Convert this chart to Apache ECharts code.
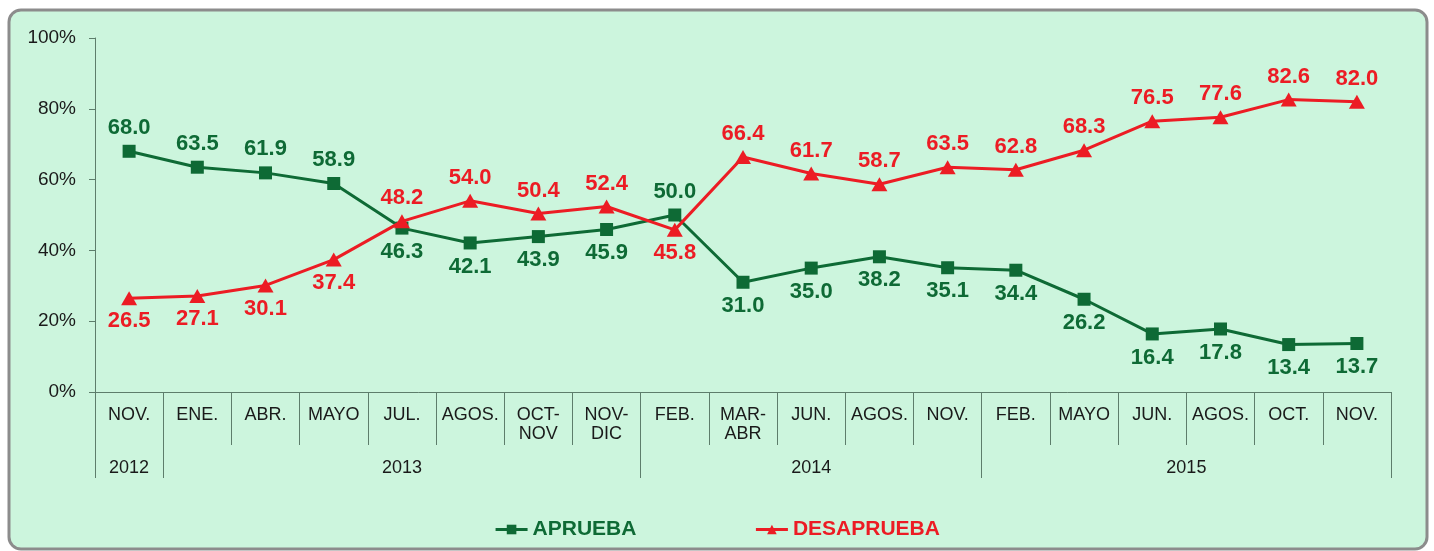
<!DOCTYPE html>
<html>
<head>
<meta charset="utf-8">
<script src="https://cdn.jsdelivr.net/npm/echarts@6/dist/echarts.min.js"></script>
<style>
  html, body { margin: 0; padding: 0; background: #ffffff; }
  #chart { width: 1434px; height: 551px; }
</style>
</head>
<body>
<div id="chart"></div>
<script>
// ---- data ----
const years = ['2012', '2013', '2014', '2015'];
const yearMonthCounts = [1, 7, 5, 6];
const months = ['NOV.', 'ENE.', 'ABR.', 'MAYO', 'JUL.', 'AGOS.', 'OCT-\nNOV', 'NOV-\nDIC',
                'FEB.', 'MAR-\nABR', 'JUN.', 'AGOS.', 'NOV.',
                'FEB.', 'MAYO', 'JUN.', 'AGOS.', 'OCT.', 'NOV.'];
const aprueba = [68.0, 63.5, 61.9, 58.9, 46.3, 42.1, 43.9, 45.9, 50.0, 31.0, 35.0, 38.2, 35.1, 34.4, 26.2, 16.4, 17.8, 13.4, 13.7];
const desaprueba = [26.5, 27.1, 30.1, 37.4, 48.2, 54.0, 50.4, 52.4, 45.8, 66.4, 61.7, 58.7, 63.5, 62.8, 68.3, 76.5, 77.6, 82.6, 82.0];
const yTicks = [0, 20, 40, 60, 80, 100];

// ---- derived helpers ----
const yearStarts = [];
const yearCenters = [];
let acc = 0;
yearMonthCounts.forEach(function (c) { yearStarts.push(acc); yearCenters.push(acc + c / 2); acc += c; });

const GREEN = '#0e6a35';
const RED = '#ec1c24';
const AXIS = '#5d7d6b';
const FONT = '"Liberation Sans", Arial, sans-serif';

function buildData(vals, other, dist) {
  return vals.map(function (v, i) {
    const above = v >= other[i];
    return {
      value: v,
      label: { position: above ? 'top' : 'bottom', distance: dist }
    };
  });
}

const chart = echarts.init(document.getElementById('chart'), null, { renderer: 'canvas' });
chart.setOption({
  backgroundColor: '#ffffff',
  animation: false,
  graphic: [{
    type: 'rect',
    z: -10,
    silent: true,
    shape: { x: 9, y: 10, width: 1418, height: 539, r: 12 },
    style: { fill: '#ccf5dd', stroke: '#8c8c8c', lineWidth: 3 }
  }],
  grid: { left: 95, right: 43, top: 38, bottom: 159, outerBoundsMode: 'none', containLabel: false },
  legend: {
    top: 514,
    left: 'center',
    itemGap: 118,
    itemWidth: 32,
    itemHeight: 12,
    lineStyle: { width: 3 },
    textStyle: { fontFamily: FONT, fontSize: 21, fontWeight: 'bold' },
    data: [
      { name: 'APRUEBA', textStyle: { color: GREEN } },
      { name: 'DESAPRUEBA', textStyle: { color: RED } }
    ]
  },
  xAxis: [
    {
      type: 'category',
      data: months,
      boundaryGap: true,
      position: 'bottom',
      axisLine: { show: true, onZero: false, lineStyle: { color: AXIS, width: 1 } },
      axisTick: { show: true, interval: 0, length: 53, lineStyle: { color: AXIS, width: 1 } },
      axisLabel: {
        interval: 0, margin: 14, color: '#1a1a1a', fontFamily: FONT, fontSize: 18, lineHeight: 19,
        verticalAlign: 'top'
      },
      splitLine: { show: false }
    },
    {
      type: 'category',
      data: months,
      boundaryGap: true,
      position: 'bottom',
      axisLine: { show: false, onZero: false },
      axisTick: {
        show: true,
        interval: function (index) { return yearStarts.indexOf(index) >= 0; },
        length: 86,
        lineStyle: { color: AXIS, width: 1 }
      },
      axisLabel: { show: false },
      splitLine: { show: false }
    },
    {
      type: 'value',
      min: 0,
      max: months.length,
      interval: 0.5,
      position: 'bottom',
      axisLine: { show: false, onZero: false },
      axisTick: { show: false },
      splitLine: { show: false },
      axisLabel: {
        margin: 76,
        color: '#1a1a1a',
        fontFamily: FONT,
        fontSize: 18,
        lineHeight: 20,
        verticalAlign: 'middle',
        showMinLabel: true,
        showMaxLabel: true,
        formatter: function (v) {
          const k = yearCenters.findIndex(function (c) { return Math.abs(c - v) < 1e-6; });
          return k >= 0 ? years[k] : '';
        }
      }
    }
  ],
  yAxis: {
    type: 'value',
    min: yTicks[0],
    max: yTicks[yTicks.length - 1],
    interval: yTicks[1] - yTicks[0],
    axisLine: { show: true, lineStyle: { color: AXIS, width: 1 } },
    axisTick: { show: true, length: 6, lineStyle: { color: AXIS, width: 1 } },
    splitLine: { show: false },
    axisLabel: {
      margin: 19, color: '#1a1a1a', fontFamily: FONT, fontSize: 19,
      formatter: '{value}%'
    }
  },
  series: [
    {
      name: 'APRUEBA',
      type: 'line',
      xAxisIndex: 0,
      data: buildData(aprueba, desaprueba, 6),
      symbol: 'rect',
      symbolSize: 13,
      showAllSymbol: true,
      lineStyle: { color: GREEN, width: 3 },
      itemStyle: { color: GREEN },
      label: {
        show: true, color: GREEN, fontFamily: FONT, fontSize: 22, fontWeight: 'bold',
        formatter: function (p) { return p.value.toFixed(1); }
      },
      z: 3
    },
    {
      name: 'DESAPRUEBA',
      type: 'line',
      xAxisIndex: 0,
      data: buildData(desaprueba, aprueba, 5),
      symbol: 'triangle',
      symbolSize: [16, 14],
      showAllSymbol: true,
      lineStyle: { color: RED, width: 3 },
      itemStyle: { color: RED },
      label: {
        show: true, color: RED, fontFamily: FONT, fontSize: 22, fontWeight: 'bold',
        formatter: function (p) { return p.value.toFixed(1); }
      },
      z: 4
    }
  ]
});
</script>
</body>
</html>
